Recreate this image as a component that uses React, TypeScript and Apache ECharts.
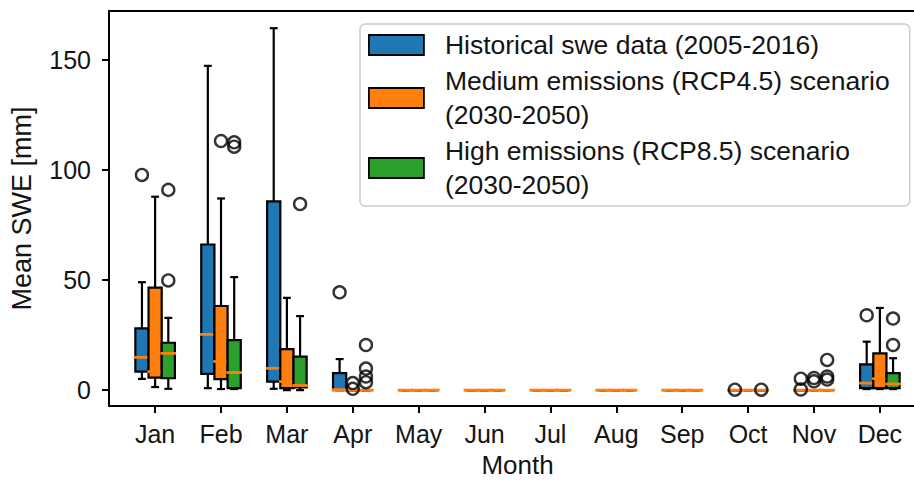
import React, { useEffect, useRef } from "react";
import * as echarts from "echarts";

const months = ["Jan", "Feb", "Mar", "Apr", "May", "Jun", "Jul", "Aug", "Sep", "Oct", "Nov", "Dec"];
const yTicks = [0, 50, 100, 150];

// Historical swe data (2005-2016)
const histLow = [5.1, 0.9, 0.6, 0, 0, 0, 0, 0, 0, 0, 0, 0.5];
const histQ1 = [8.4, 7.4, 3.9, 0, 0, 0, 0, 0, 0, 0, 0, 0.9];
const histMed = [14.9, 25.3, 9.9, 0.2, 0, 0, 0, 0, 0, 0, 0, 3.2];
const histQ3 = [28.0, 66.1, 85.7, 7.7, 0, 0, 0, 0, 0, 0, 0, 11.7];
const histHigh = [49.0, 147.2, 164.3, 14.1, 0, 0, 0, 0, 0, 0, 0, 22.0];
const histFliers: [number, number][] = [
  [1, 97.7], [4, 44.4], [10, 0.2], [11, 5.2], [11, 0.3], [12, 34.0],
];

// Medium emissions (RCP4.5) 2030-2050
const medLow = [1.4, 0.5, 0, 0, 0, 0, 0, 0, 0, 0, 0, 0.5];
const medQ1 = [5.7, 5.0, 0.9, 0, 0, 0, 0, 0, 0, 0, 0, 0.9];
const medMed = [8.4, 13.0, 3.9, 0, 0, 0, 0, 0, 0, 0, 0, 5.2];
const medQ3 = [46.5, 38.2, 18.6, 0, 0, 0, 0, 0, 0, 0, 0, 16.7];
const medHigh = [87.8, 87.0, 41.9, 0, 0, 0, 0, 0, 0, 0, 0, 37.3];
const medFliers: [number, number][] = [
  [2, 113.1], [4, 3.2], [4, 0.6], [11, 5.5], [11, 4.0],
];

// High emissions (RCP8.5) 2030-2050
const highLow = [0.6, 0.5, 0, 0, 0, 0, 0, 0, 0, 0, 0, 0.5];
const highQ1 = [5.4, 0.9, 1.2, 0, 0, 0, 0, 0, 0, 0, 0, 0.9];
const highMed = [16.7, 8.0, 2.1, 0, 0, 0, 0, 0, 0, 0, 0, 2.8];
const highQ3 = [21.5, 22.7, 15.2, 0, 0, 0, 0, 0, 0, 0, 0, 7.7];
const highHigh = [32.8, 51.3, 33.6, 0, 0, 0, 0, 0, 0, 0, 0, 14.5];
const highFliers: [number, number][] = [
  [1, 90.9], [1, 49.8], [2, 112.5], [2, 110.5], [3, 84.5],
  [4, 20.5], [4, 9.8], [4, 6.2], [4, 3.6], [10, 0.2],
  [11, 13.7], [11, 6.2], [11, 4.8], [12, 32.5], [12, 20.5],
];

const names = [
  "Historical swe data (2005-2016)",
  "Medium emissions (RCP4.5) scenario\n(2030-2050)",
  "High emissions (RCP8.5) scenario\n(2030-2050)",
];
const colors = ["#1f77b4", "#ff7f0e", "#2ca02c"];
const offsets = [-0.2, 0, 0.2];
const BOX_W = 0.2;
const MEDIAN_COLOR = "#ff7f0e";
const FONT = "'Liberation Sans', Arial, Helvetica, sans-serif";
const TEXT_COLOR = "#141414";

const groups = [
  { low: histLow, q1: histQ1, med: histMed, q3: histQ3, high: histHigh, fliers: histFliers },
  { low: medLow, q1: medQ1, med: medMed, q3: medQ3, high: medHigh, fliers: medFliers },
  { low: highLow, q1: highQ1, med: highMed, q3: highQ3, high: highHigh, fliers: highFliers },
];

// Box, whiskers, caps and median for one month of one scenario
function makeRenderItem(color: string) {
  return (params: any, api: any) => {
    const x = api.value(0);
    const pLow = api.coord([x, api.value(1)]);
    const pQ1 = api.coord([x, api.value(2)]);
    const pMed = api.coord([x, api.value(3)]);
    const pQ3 = api.coord([x, api.value(4)]);
    const pHigh = api.coord([x, api.value(5)]);
    const w = api.size([BOX_W, 0])[0];
    const cx = pMed[0];
    const half = w / 2;
    const cap = w * 0.3;
    const stroke = { stroke: "#000", lineWidth: 2.2 };
    return {
      type: "group",
      children: [
        { type: "line", shape: { x1: cx, y1: pQ3[1], x2: cx, y2: pHigh[1] }, style: stroke },
        { type: "line", shape: { x1: cx, y1: pQ1[1], x2: cx, y2: pLow[1] }, style: stroke },
        { type: "line", shape: { x1: cx - cap, y1: pHigh[1], x2: cx + cap, y2: pHigh[1] }, style: stroke },
        { type: "line", shape: { x1: cx - cap, y1: pLow[1], x2: cx + cap, y2: pLow[1] }, style: stroke },
        {
          type: "rect",
          shape: { x: cx - half, y: pQ3[1], width: w, height: pQ1[1] - pQ3[1] },
          style: { fill: color, stroke: "#000", lineWidth: 2.2 },
        },
        {
          type: "line",
          shape: { x1: cx - half - 1.2, y1: pMed[1], x2: cx + half + 1.2, y2: pMed[1] },
          style: { stroke: MEDIAN_COLOR, lineWidth: 2.8 },
        },
      ],
    };
  };
}

export default function App() {
  const ref = useRef<HTMLDivElement>(null);

  useEffect(() => {
    if (!ref.current) return;
    const chart = echarts.init(ref.current, null, { renderer: "svg" });

    const boxSeries = groups.map((g, s) => ({
      name: names[s],
      type: "custom",
      renderItem: makeRenderItem(colors[s]),
      itemStyle: { color: colors[s], borderColor: "#000", borderWidth: 1.5 },
      encode: { x: 0, y: [1, 2, 3, 4, 5] },
      data: months.map((_, i) => [i + 1 + offsets[s], g.low[i], g.q1[i], g.med[i], g.q3[i], g.high[i]]),
      z: 2,
    }));

    const flierSeries = groups.map((g, s) => ({
      name: "fliers-" + s,
      type: "scatter",
      symbol: "circle",
      symbolSize: 12,
      itemStyle: { color: "rgba(0,0,0,0)", borderColor: "#000", borderWidth: 2.4 },
      data: g.fliers.map(([m, v]) => [m + offsets[s], v]),
      z: 3,
    }));

    chart.setOption({
      animation: false,
      backgroundColor: "#fff",
      grid: {
        left: 108,
        top: 11,
        width: 818,
        height: 397,
        show: true,
        borderColor: "#000",
        borderWidth: 2,
        backgroundColor: "transparent",
      },
      legend: {
        orient: "vertical",
        left: 360,
        top: 24,
        padding: [4, 20, 4, 8],
        itemGap: 2,
        itemWidth: 55,
        itemHeight: 20,
        icon: "rect",
        selectedMode: false,
        backgroundColor: "rgba(255,255,255,0.85)",
        borderColor: "#cccccc",
        borderWidth: 1.5,
        borderRadius: 5,
        textStyle: {
          fontSize: 26.5,
          lineHeight: 34,
          color: TEXT_COLOR,
          fontFamily: FONT,
          padding: [0, 0, 0, 16],
        },
        data: names.map((n, s) => ({
          name: n,
          itemStyle: { color: colors[s], borderColor: "#000", borderWidth: 1.8 },
        })),
      },
      xAxis: {
        type: "value",
        min: 0.3,
        max: 12.7,
        name: "Month",
        nameLocation: "middle",
        nameGap: 46,
        nameTextStyle: { fontSize: 26, color: TEXT_COLOR, fontFamily: FONT, verticalAlign: "top" },
        axisLine: { show: true, onZero: false, lineStyle: { color: "#000", width: 2 } },
        axisTick: {
          show: true,
          length: 7,
          lineStyle: { color: "#000", width: 2 },
          customValues: months.map((_, i) => i + 1),
        },
        axisLabel: {
          show: true,
          margin: 15,
          fontSize: 25,
          color: TEXT_COLOR,
          fontFamily: FONT,
          customValues: months.map((_, i) => i + 1),
          formatter: (v: number) => months[Math.round(v) - 1] ?? "",
        },
        splitLine: { show: false },
      },
      yAxis: {
        type: "value",
        min: -7.2,
        max: 172.1,
        name: "Mean SWE [mm]",
        nameLocation: "middle",
        nameGap: 74,
        nameTextStyle: { fontSize: 27, color: TEXT_COLOR, fontFamily: FONT },
        axisLine: { show: true, onZero: false, lineStyle: { color: "#000", width: 2 } },
        axisTick: {
          show: true,
          length: 7,
          lineStyle: { color: "#000", width: 2 },
          customValues: yTicks,
        },
        axisLabel: {
          show: true,
          margin: 18,
          fontSize: 25,
          color: TEXT_COLOR,
          fontFamily: FONT,
          customValues: yTicks,
        },
        splitLine: { show: false },
      },
      series: [...boxSeries, ...flierSeries],
    });

    return () => chart.dispose();
  }, []);

  return (
    <div
      style={{
        position: "fixed",
        left: 0,
        top: 0,
        width: 914,
        height: 483,
        overflow: "hidden",
        background: "#fff",
      }}
    >
      <div ref={ref} style={{ width: 940, height: 483 }} />
    </div>
  );
}
